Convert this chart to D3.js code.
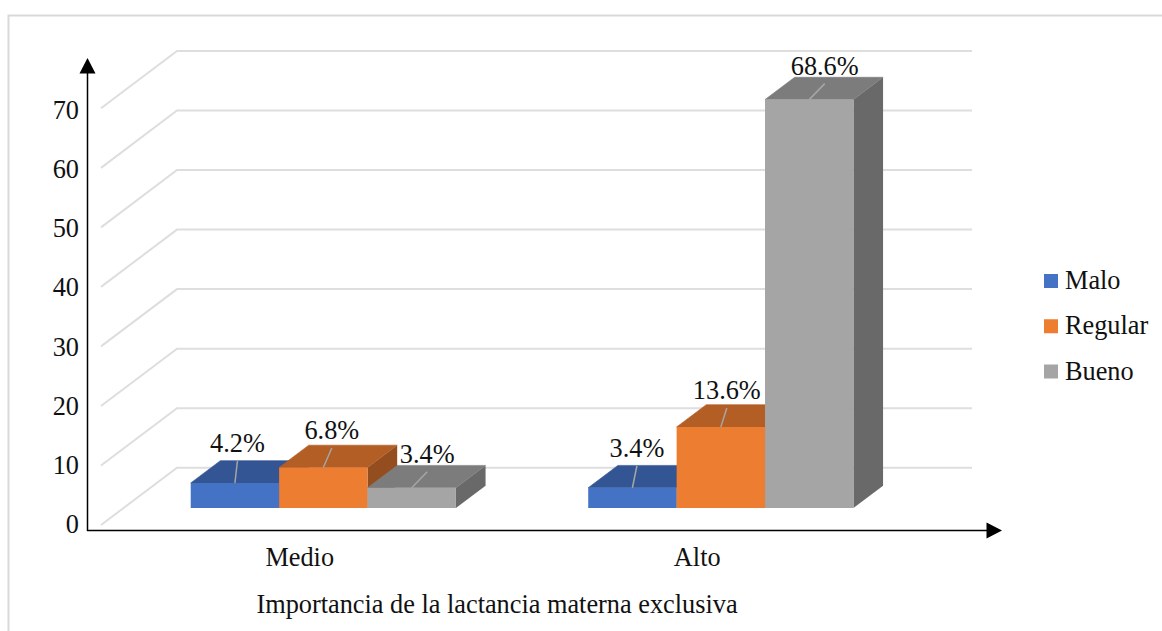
<!DOCTYPE html>
<html><head><meta charset="utf-8">
<style>html,body{margin:0;padding:0;background:#fff}svg{display:block}text{font-family:"Liberation Serif",serif;fill:#111}</style>
<script src="https://cdn.jsdelivr.net/npm/d3@7/dist/d3.min.js"></script>
</head><body><script>
const categories = ["Medio", "Alto"];
const seriesNames = ["Malo", "Regular", "Bueno"];
const malo = [4.2, 3.4];
const regular = [6.8, 13.6];
const bueno = [3.4, 68.6];
const yTicks = [0, 10, 20, 30, 40, 50, 60, 70];
const xTitle = "Importancia de la lactancia materna exclusiva";

const faceColors = ["#4472c4", "#ed7d31", "#a5a5a5"];
const topColors = ["#335593", "#b25e25", "#7c7c7c"];
const sideColors = ["#2a4678", "#934d1e", "#696969"];

// Oblique floor: depth 0 is the front edge, depth 1 the back wall.
const W = 1162, H = 631;
const depthDX = 76, depthDY = 57.3;
const barDepth0 = 0.297, barDepth1 = 0.687;
const fontSize = 26.3;
const x = d3.scaleBand().domain(categories).range([101, 896]);
const y = d3.scaleLinear().domain([0, 70]).range([525, 108.3]);
const project = (px, v, depth) => [px + depth * depthDX, y(v) - depth * depthDY];
const barW = 88.4;
const groupShift = 1 - barW * 1.5;

const svg = d3.select("body").append("svg").attr("width", W).attr("height", H);

svg.append("path").attr("d", `M8.5 631V15.5H${W}`).attr("fill", "none").attr("stroke", "#d9d9d9").attr("stroke-width", 2);

// Gridlines run along the floor edge and then across the back wall.
svg.append("g").selectAll("path").data(yTicks).join("path")
  .attr("fill", "none").attr("stroke", "#dedede").attr("stroke-width", 2)
  .attr("d", v => {
    const a = project(x.range()[0], v, 0), b = project(x.range()[0], v, 1), c = project(x.range()[1], v, 1);
    return d3.line()([a, b, c]);
  });

// Each bar is three faces; rows are painted left to right so neighbours overlap correctly.
const values = [malo, regular, bueno];
const bars = [];
categories.forEach((cat, ci) => seriesNames.forEach((s, si) => {
  bars.push({cat, si, v: values[si][ci]});
}));
const gBars = svg.append("g");
const poly = pts => d3.line()(pts) + "Z";
bars.forEach(b => {
  const left = x(b.cat) + x.bandwidth() / 2 + groupShift + b.si * barW;
  const right = left + barW;
  const g = gBars.append("g");
  const F = (px, v) => project(px, v, barDepth0), B = (px, v) => project(px, v, barDepth1);
  g.append("path").attr("fill", sideColors[b.si]).attr("d", poly([F(right, 0), B(right, 0), B(right, b.v), F(right, b.v)]));
  g.append("path").attr("fill", topColors[b.si]).attr("stroke", topColors[b.si]).attr("stroke-width", 0.6)
    .attr("d", poly([F(left, b.v), B(left, b.v), B(right, b.v), F(right, b.v)]));
  g.append("path").attr("fill", faceColors[b.si]).attr("d", poly([F(left, 0), F(right, 0), F(right, b.v), F(left, b.v)]));
  b.anchor = F((left + right) / 2, b.v);
});

// Data labels with short leader lines, offset from the middle of each bar's top front edge.
const labelOffsets = [[2.5, -31], [8.5, -28.5], [15.5, -25], [4.5, -31], [6, -28], [15.5, -25]];
const gLabels = svg.append("g");
bars.forEach((b, i) => {
  const [dx, dy] = labelOffsets[i];
  const lx = b.anchor[0] + dx, ly = b.anchor[1] + dy;
  gLabels.append("line").attr("x1", b.anchor[0]).attr("y1", b.anchor[1]).attr("x2", lx).attr("y2", ly + 9)
    .attr("stroke", "#a6a6a6").attr("stroke-width", 1.5);
  gLabels.append("text").attr("x", lx).attr("y", ly).attr("text-anchor", "middle").attr("font-size", fontSize).text(b.v.toFixed(1) + "%");
});

// Axes with arrowheads.
svg.append("path").attr("d", "M87.5 531V70").attr("stroke", "#000").attr("stroke-width", 1.5).attr("fill", "none");
svg.append("path").attr("d", "M87 530.5H988").attr("stroke", "#000").attr("stroke-width", 1.5).attr("fill", "none");
svg.append("path").attr("d", "M87.5 58L95.5 73.5H79.5Z").attr("fill", "#000");
svg.append("path").attr("d", "M1002 530.5L986.5 522.5V538.5Z").attr("fill", "#000");

const tickY = d3.scaleLinear().domain([0, 70]).range([533, 119]);
svg.append("g").selectAll("text").data(yTicks).join("text")
  .attr("x", 79).attr("y", v => tickY(v)).attr("text-anchor", "end").attr("font-size", fontSize).text(v => v);

svg.append("g").selectAll("text").data(categories).join("text")
  .attr("x", c => x(c) + x.bandwidth() / 2).attr("y", 566).attr("text-anchor", "middle").attr("font-size", fontSize).text(c => c);

svg.append("text").attr("x", 497).attr("y", 613).attr("text-anchor", "middle").attr("font-size", fontSize).text(xTitle);

// Legend
const legendY = d3.scalePoint().domain(seriesNames).range([281, 371.5]);
const gLegend = svg.append("g").selectAll("g").data(seriesNames).join("g");
gLegend.append("rect").attr("x", 1044).attr("y", s => legendY(s) - 7).attr("width", 14).attr("height", 14).attr("fill", (s, i) => faceColors[i]);
gLegend.append("text").attr("x", 1065).attr("y", s => legendY(s) + 8).attr("font-size", fontSize).text(s => s);
</script></body></html>
